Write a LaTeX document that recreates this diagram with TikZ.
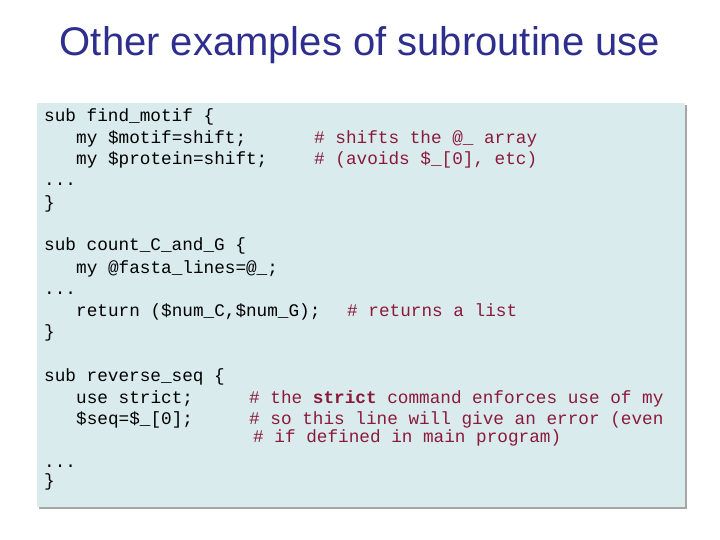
\documentclass[tikz,border=0pt]{standalone}
\usepackage{fontspec}
\setmainfont{Liberation Sans}
\newfontfamily\cour{Liberation Mono}
\definecolor{titleblue}{HTML}{2E2E8E}
\definecolor{boxfill}{HTML}{DAEBEE}
\definecolor{cmt}{HTML}{8B1A3A}
\begin{document}
\begin{tikzpicture}[x=1pt,y=-1pt,
  code/.style={anchor=base west,inner sep=0pt,font=\cour\fontsize{17.7}{20}\selectfont,text=black},
  cmtext/.style={code,text=cmt}]
\useasboundingbox (0,0) rectangle (720,540);
\fill[white] (0,0) rectangle (720,540);
\node[text=titleblue,font=\fontsize{40}{46}\selectfont] (title) at (360,45) {Other examples of subroutine use};
\fill[gray!70] (39,105) rectangle (687,509);
\fill[boxfill] (37,103) rectangle (685,507);
\node[code] (l1) at (44,122) {sub find\_motif \{};
\node[code] (l2) at (76,144) {my \$motif=shift;};
\node[cmtext] (c2) at (314,144) {\# shifts the @\_ array};
\node[code] (l3) at (76,165) {my \$protein=shift;};
\node[cmtext] (c3) at (314,165) {\# (avoids \$\_[0], etc)};
\node[code] (l4) at (44,186) {...};
\node[code] (l5) at (44,208) {\}};
\node[code] (l6) at (44,251) {sub count\_C\_and\_G \{};
\node[code] (l7) at (76,273) {my @fasta\_lines=@\_;};
\node[code] (l8) at (44,294) {...};
\node[code] (l9) at (76,316) {return (\$num\_C,\$num\_G);};
\node[cmtext] (c9) at (347,316) {\# returns a list};
\node[code] (l10) at (44,337) {\}};
\node[code] (l11) at (44,381) {sub reverse\_seq \{};
\node[code] (l12) at (76,403) {use strict;};
\node[cmtext] (c12) at (249,403) {\# the \textbf{strict} command enforces use of my};
\node[code] (l13) at (76,424) {\$seq=\$\_[0];};
\node[cmtext] (c13) at (249,424) {\# so this line will give an error (even};
\node[cmtext] (c14) at (253,442) {\# if defined in main program)};
\node[code] (l15) at (44,467) {...};
\node[code] (l16) at (44,486) {\}};
\end{tikzpicture}
\end{document}
